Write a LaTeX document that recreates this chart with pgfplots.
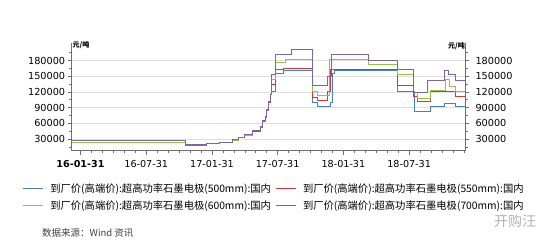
\documentclass[border=0pt]{standalone}
\usepackage{pgfplots}
\pgfplotsset{compat=1.18}
\usepackage{fontspec}
\setmainfont{DejaVu Sans}
\newfontfamily\cjk{Noto Sans CJK SC}
\definecolor{sblue}{RGB}{74,126,187}
\definecolor{sred}{RGB}{214,54,54}
\definecolor{sgreen}{RGB}{146,194,72}
\definecolor{spurple}{RGB}{128,100,162}
\definecolor{axgray}{RGB}{110,110,110}
\begin{document}
\begin{tikzpicture}[x=1bp,y=1bp]
\path[use as bounding box, fill=white] (0,0) rectangle (546,240);
\begin{axis}[
  at={(71.7bp,89.5bp)}, anchor=south west, scale only axis,
  width=393.3bp, height=107.5bp,
  xmin=-0.8, xmax=35.1, ymin=8000, ymax=213400,
  scaled y ticks=false,
  axis x line*=bottom, axis y line*=left,
  axis line style={axgray, line width=0.6bp},
  tick align=outside,
  major tick length=4bp, minor tick length=2.5bp,
  tick style={axgray, line width=0.6bp},
  xtick={0,6,12,18,24,30},
  xticklabels={\textbf{16-01-31},16-07-31,17-01-31,17-07-31,18-01-31,18-07-31},
  minor xtick={1,2,3,4,5,7,8,9,10,11,13,14,15,16,17,19,20,21,22,23,25,26,27,28,29,31,32,33,34,35},
  ytick={30000,60000,90000,120000,150000,180000},
  yticklabels={30000,60000,90000,120000,150000,180000},
  minor ytick={15000,45000,75000,105000,135000,165000,195000},
  ymajorgrids, major grid style={draw=black!12, line width=0.5bp},
  xticklabel style={font=\fontsize{9.6bp}{11bp}\selectfont, yshift=-2bp},
  yticklabel style={font=\fontsize{9.7bp}{11bp}\selectfont, xshift=1bp},
  legend columns=2,
  legend cell align=left,
  legend image code/.code={\draw[#1, line width=1bp] (0bp,0bp) -- (20bp,0bp);},
  legend style={at={(axis description cs:-0.126,-0.285)}, anchor=north west,
    draw=none, fill=none, font=\cjk\fontsize{10.3bp}{12bp}\selectfont,
    inner sep=0pt, row sep=3bp,
    /tikz/every even column/.append style={column sep=2bp},
    /tikz/every odd column/.append style={column sep=5bp}},
]
\addplot[sblue, line width=0.9bp, const plot] coordinates {
(-0.8,22500) (9.6,18500) (11.5,21000) (12.7,23000) (13.9,27500) (14.4,32000) (15.0,37000) (15.7,45000) (16.4,53000) (16.6,64000) (16.85,72000) (17.0,85000) (17.15,100000) (17.3,115000) (17.45,120600) (17.8,155800) (18.5,160500) (21.2,100000) (21.6,92000) (22.8,100000) (23.0,155000) (23.2,160000) (28.9,120600) (30.5,83000) (31.9,92000) (33.2,97500) (34.2,92000) (35.1,92000)};
\addlegendentry{到厂价(高端价):超高功率石墨电极(500mm):国内}
\addplot[sred, line width=0.9bp, const plot] coordinates {
(-0.8,23000) (9.6,18700) (11.5,21200) (12.7,23200) (13.9,27800) (14.4,32300) (15.0,37300) (15.7,45300) (16.4,53300) (16.6,64500) (16.85,72500) (17.0,85500) (17.15,100500) (17.3,115500) (17.45,135000) (17.8,162000) (18.5,165000) (21.2,110000) (21.6,103000) (22.5,120600) (22.8,162000) (28.9,131500) (30.4,111000) (30.8,102000) (31.9,120600) (34.2,111000) (35.1,111000)};
\addlegendentry{到厂价(高端价):超高功率石墨电极(550mm):国内}
\addplot[sgreen, line width=0.9bp, const plot] coordinates {
(-0.8,23500) (9.6,18800) (11.5,21300) (12.7,23400) (13.9,28000) (14.4,32500) (15.0,37600) (15.7,45600) (16.4,53600) (16.6,64800) (16.85,72800) (17.0,85800) (17.15,100800) (17.3,115800) (17.45,143000) (17.8,177000) (18.7,182000) (21.2,120000) (21.6,113000) (22.7,182600) (26.3,172000) (28.9,152600) (30.4,118000) (30.8,108000) (31.9,123000) (33.3,143000) (33.7,131000) (34.2,121000) (35.1,121000)};
\addlegendentry{到厂价(高端价):超高功率石墨电极(600mm):国内}
\addplot[spurple, line width=0.9bp, const plot] coordinates {
(-0.8,28000) (9.6,19000) (11.5,21500) (12.7,23700) (13.9,28500) (14.4,33000) (15.0,38500) (15.7,46500) (16.4,54500) (16.6,65000) (16.85,73000) (17.0,86000) (17.15,101000) (17.3,116000) (17.45,152600) (17.8,190700) (19.3,201000) (21.2,133000) (22.5,150000) (22.9,190700) (26.3,181000) (28.9,162000) (30.4,119000) (31.7,142000) (33.2,161000) (33.6,152600) (34.2,141700) (35.1,141700)};
\addlegendentry{到厂价(高端价):超高功率石墨电极(700mm):国内}
\end{axis}
\begin{axis}[
  at={(71.7bp,89.5bp)}, anchor=south west, scale only axis,
  width=393.3bp, height=107.5bp,
  xmin=-0.8, xmax=35.1, ymin=8000, ymax=213400,
  scaled y ticks=false,
  axis y line*=right, axis x line=none,
  axis line style={axgray, line width=0.6bp},
  tick align=outside,
  major tick length=4bp, minor tick length=2.5bp,
  tick style={axgray, line width=0.6bp},
  ytick={30000,60000,90000,120000,150000,180000},
  yticklabels={30000,60000,90000,120000,150000,180000},
  minor ytick={15000,45000,75000,105000,135000,165000,195000},
  yticklabel style={font=\fontsize{9.7bp}{11bp}\selectfont, xshift=3bp},
]
\end{axis}
\node[anchor=west, inner sep=0pt, font=\cjk\bfseries\fontsize{7bp}{8bp}\selectfont] at (72.5,195) {元/吨};
\node[anchor=east, inner sep=0pt, font=\cjk\bfseries\fontsize{7bp}{8bp}\selectfont] at (465,194) {元/吨};
\node[anchor=west, inner sep=0pt, text=black!75, font=\cjk\fontsize{9.5bp}{11bp}\selectfont] at (42,7) {数据来源：Wind 资讯};
\node[anchor=west, inner sep=0pt, text=black!30, font=\cjk\fontsize{14bp}{16bp}\selectfont] at (494,19) {开购汪};
\end{tikzpicture}
\end{document}
